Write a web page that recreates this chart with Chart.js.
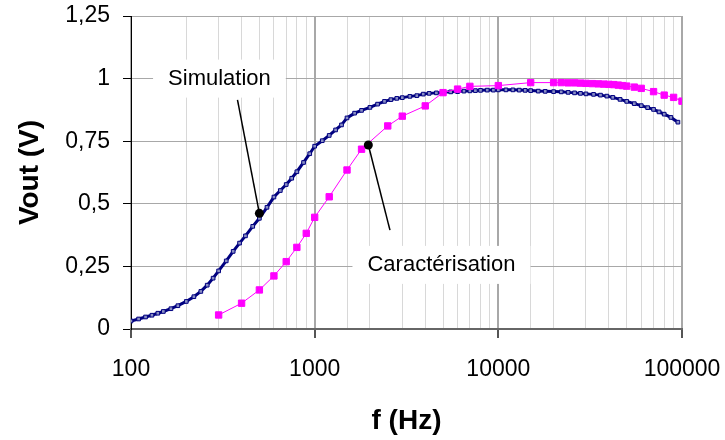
<!DOCTYPE html>
<html>
<head>
<meta charset="utf-8">
<script src="https://cdn.jsdelivr.net/npm/chart.js@4"></script>
<style>
  html, body { margin: 0; padding: 0; background: #fff; }
  #chart { display: block; }
</style>
</head>
<body>
<canvas id="chart" width="725" height="440"></canvas>
<script>
// Simulation curve (f in Hz, Vout in V)
const simFreq = [100, 110, 120, 130, 140, 150, 165, 180, 200, 220, 240, 260, 280, 300, 330, 360, 390, 420, 460, 500,
  550, 600, 650, 700, 750, 800, 870, 940, 1000, 1100, 1200, 1300, 1400, 1500, 1650, 1800, 2000, 2200, 2400, 2600,
  2800, 3000, 3300, 3600, 3900, 4200, 4600, 5000, 5500, 6000, 6500, 7000, 7500, 8000, 8700, 9400, 10000, 11000,
  12000, 13000, 14000, 15000, 16500, 18000, 20000, 22000, 24000, 26000, 28000, 30000, 33000, 36000, 39000, 42000,
  46000, 50000, 55000, 60000, 65000, 70000, 75000, 80000, 87000, 95000];
const simVout = [0.032, 0.040, 0.048, 0.055, 0.063, 0.070, 0.081, 0.093, 0.110, 0.129, 0.150, 0.175, 0.203, 0.232,
  0.272, 0.310, 0.343, 0.372, 0.410, 0.442, 0.486, 0.527, 0.553, 0.577, 0.602, 0.628, 0.665, 0.700, 0.730, 0.752,
  0.773, 0.795, 0.815, 0.843, 0.862, 0.873, 0.885, 0.898, 0.909, 0.916, 0.921, 0.924, 0.929, 0.932, 0.938, 0.941,
  0.943, 0.945, 0.947, 0.948, 0.950, 0.951, 0.952, 0.953, 0.954, 0.954, 0.955, 0.955, 0.955, 0.954, 0.953, 0.952,
  0.950, 0.949, 0.948, 0.947, 0.945, 0.943, 0.941, 0.939, 0.937, 0.934, 0.930, 0.925, 0.917, 0.909, 0.900, 0.892,
  0.884, 0.877, 0.867, 0.858, 0.845, 0.826];

// Measured curve
const carFreq = [300, 400, 500, 600, 700, 800, 900, 1000, 1200, 1500, 1800, 2500, 3000, 4000, 5000, 6000, 7000,
  10000, 15000, 20000, 22000, 24000, 26000, 28000, 30000, 32500, 35000, 37500, 40000, 42500, 45000, 47500, 50000,
  55000, 60000, 70000, 80000, 90000, 100000];
const carVout = [0.056, 0.103, 0.156, 0.212, 0.269, 0.326, 0.382, 0.446, 0.528, 0.635, 0.718, 0.811, 0.850, 0.891,
  0.944, 0.958, 0.969, 0.972, 0.984, 0.984, 0.984, 0.983, 0.983, 0.982, 0.981, 0.980, 0.979, 0.978, 0.977, 0.976,
  0.974, 0.972, 0.970, 0.966, 0.961, 0.948, 0.934, 0.925, 0.910];

const xLabels = [100, 1000, 10000, 100000];
const yLabels = [0, 0.25, 0.5, 0.75, 1, 1.25];

// callouts, in data units: label centre, leader start, dot
const callouts = [
  { text: 'Simulation', label: [303, 1.0], from: [380, 0.915], to: [500, 0.462] },
  { text: 'Caractérisation', label: [4900, 0.256], from: [2570, 0.395], to: [1960, 0.735] }
];

const FONT = "'Liberation Sans', Arial, sans-serif";

function isDecade(v) {
  const l = Math.log10(v);
  return Math.abs(l - Math.round(l)) < 1e-6;
}

const calloutPlugin = {
  id: 'callouts',
  afterDatasetsDraw(chart) {
    const ctx = chart.ctx;
    const xs = chart.scales.x, ys = chart.scales.y;
    ctx.save();
    ctx.font = '22px ' + FONT;
    callouts.forEach(c => {
      const lx = xs.getPixelForValue(c.label[0]), ly = ys.getPixelForValue(c.label[1]);
      const w = ctx.measureText(c.text).width + 30, h = 38;
      ctx.fillStyle = '#fff';
      ctx.fillRect(lx - w / 2, ly - h / 2, w, h);
      ctx.fillStyle = '#000';
      ctx.textAlign = 'center';
      ctx.textBaseline = 'middle';
      ctx.fillText(c.text, lx, ly);

      const x1 = xs.getPixelForValue(c.from[0]), y1 = ys.getPixelForValue(c.from[1]);
      const x2 = xs.getPixelForValue(c.to[0]), y2 = ys.getPixelForValue(c.to[1]);
      ctx.strokeStyle = '#000';
      ctx.lineWidth = 1.5;
      ctx.beginPath();
      ctx.moveTo(x1, y1);
      ctx.lineTo(x2, y2);
      ctx.stroke();
      ctx.beginPath();
      ctx.arc(x2, y2, 4.5, 0, Math.PI * 2);
      ctx.fill();
    });
    ctx.restore();
  }
};

new Chart(document.getElementById('chart'), {
  type: 'line',
  data: {
    datasets: [
      {
        label: 'Simulation',
        data: simFreq.map((f, i) => ({ x: f, y: simVout[i] })),
        borderColor: '#000080',
        borderWidth: 3,
        pointStyle: 'rect',
        pointRadius: 2.6,
        pointBorderWidth: 1,
        pointBackgroundColor: '#8a8fc4',
        pointBorderColor: '#000080',
        order: 2
      },
      {
        label: 'Caractérisation',
        data: carFreq.map((f, i) => ({ x: f, y: carVout[i] })),
        borderColor: '#ff00ff',
        borderWidth: 1,
        pointStyle: 'rect',
        pointRadius: 4.5,
        pointBorderWidth: 1,
        pointBackgroundColor: '#ff00ff',
        pointBorderColor: '#ff00ff',
        order: 1
      }
    ]
  },
  options: {
    responsive: false,
    animation: false,
    devicePixelRatio: 1,
    layout: { padding: { left: 0, top: 16, right: 43, bottom: 0 } },
    plugins: { legend: { display: false }, tooltip: { enabled: false } },
    scales: {
      x: {
        type: 'logarithmic',
        min: 100,
        max: 100000,
        afterFit: s => { s.height = 111; s.paddingLeft = 0; s.paddingRight = 0; },
        border: { color: '#666', width: 2 },
        grid: {
          color: c => isDecade(c.tick.value) ? '#a8a8a8' : '#d8d8d8',
          lineWidth: c => isDecade(c.tick.value) ? 2 : 1,
          tickColor: c => isDecade(c.tick.value) ? '#555' : 'rgba(0,0,0,0)',
          tickLength: 9
        },
        ticks: {
          autoSkip: false,
          maxRotation: 0,
          padding: 18,
          color: '#000',
          font: { family: FONT, size: 23 },
          callback: v => (isDecade(v) && xLabels.includes(Math.round(v))) ? String(Math.round(v)) : ''
        },
        title: {
          display: true,
          text: 'f (Hz)',
          color: '#000',
          font: { family: FONT, size: 28, weight: 'bold' },
          padding: { top: 0, bottom: 2 }
        }
      },
      y: {
        min: 0,
        max: 1.25,
        afterFit: s => { s.width = 131; s.paddingTop = 0; s.paddingBottom = 0; },
        border: { color: '#000', width: 1 },
        grid: { color: '#a8a8a8', lineWidth: 1, tickColor: '#000', tickLength: 8 },
        ticks: {
          stepSize: 0.25,
          padding: 13,
          color: '#000',
          font: { family: FONT, size: 23 },
          callback: v => yLabels.includes(v) ? String(v).replace('.', ',') : ''
        },
        title: {
          display: true,
          text: 'Vout (V)',
          color: '#000',
          font: { family: FONT, size: 28, weight: 'bold' },
          padding: { top: 13, bottom: 0 }
        }
      }
    }
  },
  plugins: [calloutPlugin]
});
</script>
</body>
</html>
